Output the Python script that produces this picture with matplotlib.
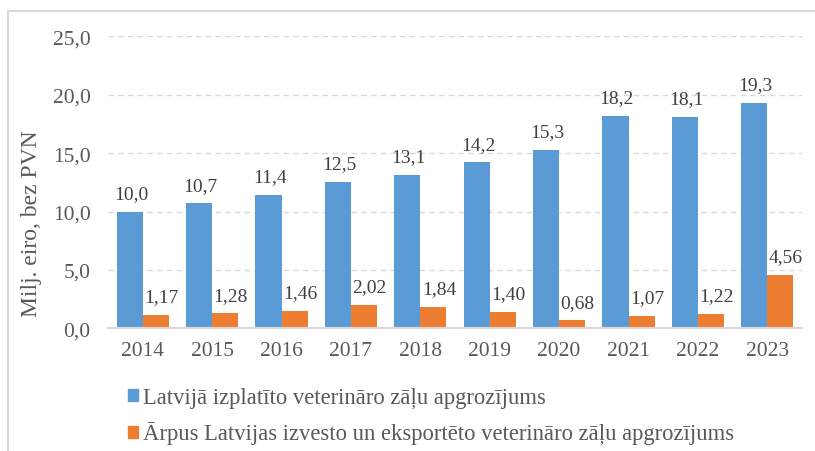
import matplotlib
matplotlib.use("Agg")
import matplotlib.pyplot as plt
import matplotlib.patches as mpatches
import numpy as np

years = ["2014", "2015", "2016", "2017", "2018", "2019", "2020", "2021", "2022", "2023"]
domestic = [10.0, 10.7, 11.4, 12.5, 13.1, 14.2, 15.3, 18.2, 18.1, 19.3]
exported = [1.17, 1.28, 1.46, 2.02, 1.84, 1.40, 0.68, 1.07, 1.22, 4.56]
domestic_labels = ["10,0", "10,7", "11,4", "12,5", "13,1", "14,2", "15,3", "18,2", "18,1", "19,3"]
exported_labels = ["1,17", "1,28", "1,46", "2,02", "1,84", "1,40", "0,68", "1,07", "1,22", "4,56"]
series_names = ["Latvijā izplatīto veterināro zāļu apgrozījums",
                "Ārpus Latvijas izvesto un eksportēto veterināro zāļu apgrozījums"]
yticks = [0, 5, 10, 15, 20, 25]
ytick_labels = ["0,0", "5,0", "10,0", "15,0", "20,0", "25,0"]

plt.rcParams['font.family'] = ['Liberation Serif', 'DejaVu Serif']

W, H = 815, 452
fig = plt.figure(figsize=(W / 100, H / 100), dpi=100)
ax = fig.add_axes([108 / W, 1 - 329.3 / H, (802 - 108) / W, (329.3 - 37.3) / H])

blue = "#5B9BD5"
orange = "#ED7D31"
x = np.arange(len(years))
bw = 0.375
b1 = ax.bar(x - bw / 2, domestic, bw, color=blue, zorder=3)
b2 = ax.bar(x + bw / 2, exported, bw, color=orange, zorder=3)

for xi, v, lab in zip(x, domestic, domestic_labels):
    ax.annotate(lab, (xi - bw / 2, v), xytext=(1, 7), textcoords="offset points",
                ha="center", va="bottom", fontsize=14, color="#404040")
for xi, v, lab in zip(x, exported, exported_labels):
    ax.annotate(lab, (xi + bw / 2, v), xytext=(4, 7), textcoords="offset points",
                ha="center", va="bottom", fontsize=14, color="#404040")

ax.set_xlim(-0.5, len(years) - 0.5)
ax.set_ylim(0, 25)
ax.set_yticks(yticks)
ax.set_yticklabels(ytick_labels)
ax.set_xticks(x)
ax.set_xticklabels(years)
ax.tick_params(axis="both", length=0, labelsize=15.5, colors="#595959")
ax.tick_params(axis="y", pad=12.5)
ax.tick_params(axis="x", pad=9)
ax.yaxis.grid(True, linestyle=(0, (4, 3)), color="#D9D9D9", linewidth=1, zorder=0)
for s in ["top", "right", "left"]:
    ax.spines[s].set_visible(False)
ax.spines["bottom"].set_color("#D9D9D9")
ax.spines["bottom"].set_linewidth(1.5)
ax.spines["bottom"].set_zorder(4)

fig.text(32 / W, 1 - 224 / H, "Milj. eiro, bez PVN", rotation=90, ha="center", va="center",
         fontsize=17, color="#595959")

handles = [mpatches.Patch(color=blue), mpatches.Patch(color=orange)]
fig.legend(handles, series_names, loc="upper left", bbox_to_anchor=(119 / W, 1 - 379 / H),
           frameon=False, fontsize=16.3, labelcolor="#595959", handlelength=0.45,
           handleheight=0.45, handletextpad=0.2, labelspacing=0.62, borderaxespad=0)

rect = mpatches.Rectangle((7.5 / W, -0.1), 1.2, 1.1 - 12 / H, transform=fig.transFigure,
                          fill=False, edgecolor="#D9D9D9", linewidth=1.5, clip_on=False)
fig.patches.append(rect)

fig.savefig("out.png", dpi=100)
